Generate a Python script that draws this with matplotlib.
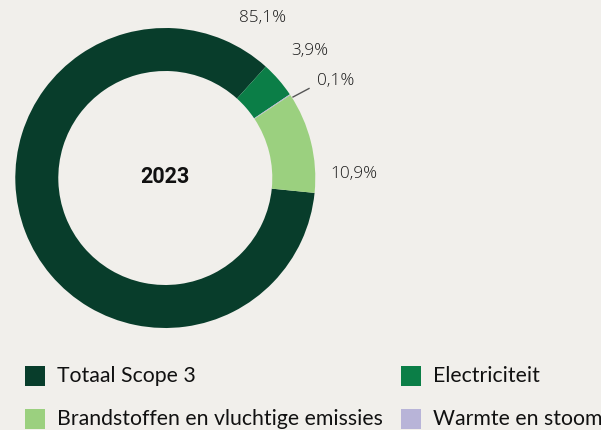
import matplotlib
matplotlib.use("Agg")
import matplotlib.pyplot as plt
from matplotlib.patches import Rectangle

categories = ["Totaal Scope 3", "Electriciteit", "Warmte en stoom", "Brandstoffen en vluchtige emissies"]
values = [85.1, 3.9, 0.1, 10.9]
labels = ["85,1%", "3,9%", "0,1%", "10,9%"]
colors = ["#083d2b", "#0b7e47", "#b8b4d8", "#9bd07f"]
center_label = "2023"

BG = "#f1efeb"
W, H = 601, 430
fig = plt.figure(figsize=(W / 100, H / 100), dpi=100, facecolor=BG)

cx, cy, R = 165.3, 178, 150
ax = fig.add_axes([(cx - R) / W, (H - cy - R) / H, 2 * R / W, 2 * R / H])
ax.set_facecolor(BG)
ax.pie(values, colors=colors, startangle=-5.7, counterclock=False, radius=1,
       wedgeprops=dict(width=43 / 150, edgecolor="none"))
ax.set_xlim(-1, 1)
ax.set_ylim(-1, 1)
ax.axis("off")

ax.text(0, 0.005, center_label, ha="center", va="center", fontsize=15.5,
        fontweight="bold", family="Roboto", color="#111111")

def px(x, y):
    return ((x - cx) / R, (cy - y) / R)

lab_pos = [(263, 18), (310, 51), (336, 81), (354, 174)]
for lab, (x, y) in zip(labels, lab_pos):
    tx, ty = px(x, y)
    ax.text(tx, ty, lab, ha="center", va="center", fontsize=12.3,
            family="Open Sans", fontweight="light", color="#1a1a1a", clip_on=False)
# leader line for the tiny slice
x0, y0 = px(293, 97)
x1, y1 = px(309, 88.5)
ax.plot([x0, x1], [y0, y1], color="#555555", lw=1, clip_on=False)

# legend
leg_items = [(0, 25, 376), (1, 401, 376), (3, 25, 419), (2, 401, 419)]
for idx, x, y in leg_items:
    fig.patches.append(Rectangle((x / W, (H - y - 10) / H), 20 / W, 20 / H,
                                 transform=fig.transFigure, facecolor=colors[idx],
                                 edgecolor="none"))
    fig.text((x + 32) / W, (H - y) / H, categories[idx], ha="left", va="center",
             fontsize=15.3, family="Lato", color="#111111")

fig.savefig("out.png", dpi=100, facecolor=BG)
